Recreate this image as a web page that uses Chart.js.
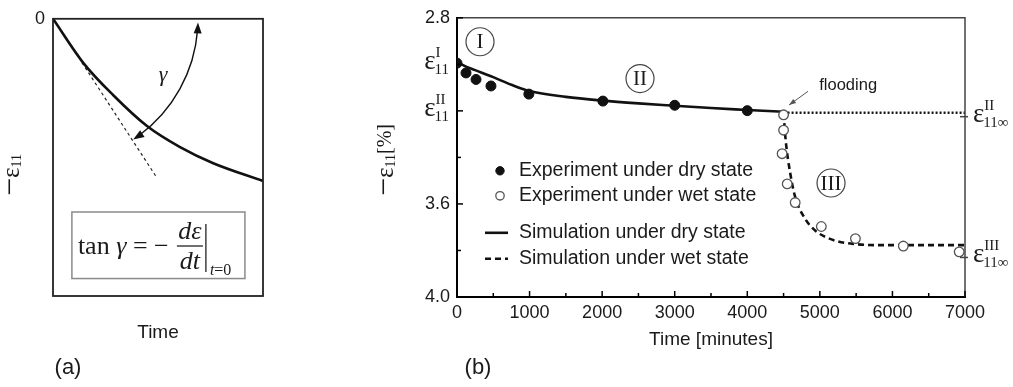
<!DOCTYPE html>
<html>
<head>
<meta charset="utf-8">
<script src="https://cdn.jsdelivr.net/npm/chart.js@4.4.0/dist/chart.umd.min.js"></script>
<style>
  body { margin: 0; background: #fff; }
  #quadro { position: relative; width: 1013px; height: 387px; overflow: hidden; }
  canvas { position: absolute; top: 0; }
  #graficoA { left: 0; }
  #graficoB { left: 375px; }
</style>
</head>
<body>
<div id="quadro">
  <canvas id="graficoA" width="375" height="387"></canvas>
  <canvas id="graficoB" width="638" height="387"></canvas>
</div>
<script>
const SANS = '"Liberation Sans", Arial, sans-serif';
const SERIF = '"Liberation Serif", "Times New Roman", serif';
const TEXTO = '#1a1a1a';

// (a) curva esquematica, eixos normalizados 0..1
const esquemaTempo = [0, 0.143, 0.286, 0.446, 0.605, 0.763, 1.0];
const esquemaDeform = [0, 0.158, 0.275, 0.386, 0.463, 0.521, 0.585];
const tangenteTempo = [0.138, 0.495];
const tangenteDeform = [0.158, 0.574];

// (b) dados
const tempoSeco = [0, 124, 262, 468, 990, 2010, 3000, 4000];
const deformSeca = [2.995, 3.037, 3.065, 3.093, 3.128, 3.158, 3.176, 3.199];
const tempoUmido = [4500, 4500, 4480, 4550, 4660, 5020, 5490, 6150, 6920];
const deformUmida = [3.217, 3.283, 3.384, 3.514, 3.594, 3.697, 3.749, 3.781, 3.806];
const simTempoSeco = [0, 125, 250, 500, 750, 1000, 1500, 2000, 2500, 3000, 3500, 4000, 4500];
const simDeformSeca = [2.99, 3.01, 3.025, 3.055, 3.088, 3.115, 3.14, 3.156, 3.168, 3.178, 3.188, 3.196, 3.204];
const simTempoUmido = [4500, 4530, 4590, 4660, 4800, 4950, 5100, 5240, 5460, 5830, 7000];
const simDeformUmida = [3.21, 3.33, 3.465, 3.57, 3.665, 3.718, 3.745, 3.76, 3.772, 3.777, 3.777];
const extTempo = [4500, 7000];
const extDeform = [3.208, 3.208];

const legendas = ['Experiment under dry state', 'Experiment under wet state',
                  'Simulation under dry state', 'Simulation under wet state'];
const yRotulados = [2.8, 3.6, 4.0];
const epsEsqValor = [3.0, 3.2];
const epsEsqSup = ['I', 'II'];
const epsDirValor = [3.225, 3.83];
const epsDirSup = ['II', 'III'];
const regioes = ['I', 'II', 'III'];
const regiaoTempo = [317, 2522, 5154];
const regiaoDeform = [2.903, 3.061, 3.51];

const pts = (xs, ys) => xs.map((v, i) => ({ x: v, y: ys[i] }));

function linha(ctx, x1, y1, x2, y2) {
    ctx.beginPath(); ctx.moveTo(x1, y1); ctx.lineTo(x2, y2); ctx.stroke();
}

function seta(ctx, x, y, dx, dy, comp, larg) {
    const n = Math.hypot(dx, dy); dx /= n; dy /= n;
    ctx.beginPath();
    ctx.moveTo(x, y);
    ctx.lineTo(x - dx * comp - dy * larg, y - dy * comp + dx * larg);
    ctx.lineTo(x - dx * comp + dy * larg, y - dy * comp - dx * larg);
    ctx.closePath(); ctx.fill();
}

// texto em sequencia: [texto, fonte, deslocamento vertical]
function trechos(ctx, partes, x, y) {
    let cx = x;
    partes.forEach(([t, f, dy]) => {
        ctx.font = f; ctx.fillText(t, cx, y + (dy || 0));
        cx += ctx.measureText(t).width;
    });
    return cx;
}
function larguraTrechos(ctx, partes) {
    return partes.reduce((s, [t, f]) => { ctx.font = f; return s + ctx.measureText(t).width; }, 0);
}

function rotuloEps(ctx, x, y, sup, sub, alinhar) {
    ctx.textAlign = 'left'; ctx.textBaseline = 'alphabetic';
    ctx.font = `27px ${SERIF}`; const we = ctx.measureText('ε').width;
    ctx.font = `15px ${SERIF}`;
    const ws = Math.max(ctx.measureText(sup).width, ctx.measureText(sub).width);
    const x0 = alinhar === 'right' ? x - we - ws : x;
    ctx.font = `27px ${SERIF}`; ctx.fillText('ε', x0, y + 5);
    ctx.font = `15px ${SERIF}`;
    ctx.fillText(sup, x0 + we, y - 7);
    ctx.fillText(sub, x0 + we - 1, y + 10);
}

function tituloVertical(ctx, partes, cx, cy) {
    ctx.save();
    ctx.translate(cx, cy); ctx.rotate(-Math.PI / 2);
    ctx.textAlign = 'left'; ctx.textBaseline = 'middle'; ctx.fillStyle = TEXTO;
    const w = larguraTrechos(ctx, partes);
    trechos(ctx, partes, -w / 2, 0);
    ctx.restore();
}

// ---------- (a) ----------
const extrasA = {
    id: 'extrasA',
    afterDraw(chart) {
        const { ctx, chartArea: a, scales: { x, y } } = chart;
        ctx.save();
        ctx.strokeStyle = '#222'; ctx.lineWidth = 1.8;
        ctx.strokeRect(a.left, a.top, a.right - a.left, a.bottom - a.top);

        // arco gamma centrado na origem
        const ox = x.getPixelForValue(0), oy = y.getPixelForValue(0);
        const r = 145, a0 = 0.025, a1 = 0.985;
        ctx.strokeStyle = '#111'; ctx.fillStyle = '#111'; ctx.lineWidth = 1.4;
        ctx.beginPath(); ctx.arc(ox, oy, r, a0 + 0.05, a1 - 0.05); ctx.stroke();
        seta(ctx, ox + r * Math.cos(a0), oy + r * Math.sin(a0), Math.sin(a0), -Math.cos(a0), 11, 4);
        seta(ctx, ox + r * Math.cos(a1), oy + r * Math.sin(a1), -Math.sin(a1), Math.cos(a1), 11, 4);

        ctx.fillStyle = TEXTO; ctx.textAlign = 'center'; ctx.textBaseline = 'middle';
        ctx.font = `italic 22px ${SERIF}`;
        ctx.fillText('γ', x.getPixelForValue(0.524), y.getPixelForValue(0.204));

        // caixa da formula
        const bl = x.getPixelForValue(0.09), br = x.getPixelForValue(0.914);
        const bt = y.getPixelForValue(0.697), bb = y.getPixelForValue(0.937);
        ctx.strokeStyle = '#8a8a8a'; ctx.lineWidth = 1.5;
        ctx.strokeRect(bl, bt, br - bl, bb - bt);
        ctx.textAlign = 'left'; ctx.textBaseline = 'alphabetic';
        const F = `26px ${SERIF}`, FI = `italic 26px ${SERIF}`;
        trechos(ctx, [['tan ', F], ['γ', FI], [' = ', F], ['−', F]], bl + 6, bt + 42);
        const fc = bl + 118;
        ctx.font = FI; ctx.textAlign = 'center';
        ctx.fillText('dε', fc, bt + 27);
        ctx.fillText('dt', fc, bt + 57);
        ctx.strokeStyle = '#111'; ctx.lineWidth = 1.2;
        linha(ctx, fc - 13, bt + 34, fc + 13, bt + 34);
        linha(ctx, fc + 16, bt + 12, fc + 16, bt + 60);
        ctx.textAlign = 'left';
        trechos(ctx, [['t', `italic 16px ${SERIF}`], ['=0', `16px ${SERIF}`]], fc + 20, bt + 63);

        tituloVertical(ctx, [['−', `32px ${SERIF}`], ['ε', `25px ${SERIF}`], ['11', `14px ${SERIF}`, 5]], 12, 175);

        ctx.fillStyle = TEXTO; ctx.font = `22px ${SANS}`; ctx.textAlign = 'center'; ctx.textBaseline = 'middle';
        ctx.fillText('(a)', 68, 368);
        ctx.restore();
    }
};

new Chart(document.getElementById('graficoA'), {
    type: 'scatter',
    data: {
        datasets: [
            { data: pts(esquemaTempo, esquemaDeform), showLine: true, borderColor: '#111', borderWidth: 2.6,
              pointRadius: 0, cubicInterpolationMode: 'monotone' },
            { data: pts(tangenteTempo, tangenteDeform), showLine: true, borderColor: '#222', borderWidth: 1.2,
              borderDash: [3, 3], pointRadius: 0 }
        ]
    },
    options: {
        responsive: false, animation: false, devicePixelRatio: 1,
        layout: { padding: { left: 0, top: 12, right: 112, bottom: 0 } },
        plugins: { legend: { display: false }, tooltip: { enabled: false } },
        scales: {
            x: {
                min: 0, max: 1,
                ticks: { display: false }, grid: { display: false, drawTicks: false },
                border: { display: false },
                title: { display: true, text: 'Time', color: TEXTO, font: { family: SANS, size: 19 },
                         padding: { top: 0, bottom: 42.6 } },
                afterFit: s => { s.height = 91; }
            },
            y: {
                min: 0, max: 1, reverse: true,
                afterBuildTicks: s => { s.ticks = [{ value: 0 }]; },
                ticks: { padding: 8, color: TEXTO, font: { family: SANS, size: 18 }, callback: () => '0' },
                grid: { display: false, drawTicks: false }, border: { display: false },
                afterFit: s => { s.width = 53; }
            }
        }
    },
    plugins: [extrasA]
});

// ---------- (b) ----------
const extrasB = {
    id: 'extrasB',
    afterDraw(chart) {
        const { ctx, chartArea: a, scales: { x, y } } = chart;
        const ds = chart.data.datasets;
        ctx.save();
        ctx.strokeStyle = '#444'; ctx.lineWidth = 1.5;
        ctx.beginPath(); ctx.moveTo(a.left, a.top); ctx.lineTo(a.right, a.top); ctx.lineTo(a.right, a.bottom); ctx.stroke();

        // marcas para dentro
        ctx.strokeStyle = '#000'; ctx.lineWidth = 1.5;
        x.ticks.forEach(t => {
            const px = x.getPixelForValue(t.value);
            linha(ctx, px, a.bottom, px, a.bottom - (t.value % 1000 === 0 ? 6 : 4));
        });
        y.ticks.forEach((t, i) => {
            const py = y.getPixelForValue(t.value);
            linha(ctx, a.left, py, a.left + (i % 2 === 0 ? 6 : 4), py);
        });
        ctx.strokeStyle = '#444';
        epsDirValor.forEach(v => { const py = y.getPixelForValue(v); linha(ctx, a.right - 5, py, a.right + 3, py); });

        ctx.fillStyle = TEXTO;
        epsEsqValor.forEach((v, i) => rotuloEps(ctx, a.left - 7, y.getPixelForValue(v), epsEsqSup[i], '11', 'right'));
        epsDirValor.forEach((v, i) => rotuloEps(ctx, a.right + 8, y.getPixelForValue(v), epsDirSup[i], '11∞', 'left'));

        // regioes circuladas
        ctx.strokeStyle = '#444'; ctx.lineWidth = 1.2;
        regioes.forEach((r, i) => {
            const cx = x.getPixelForValue(regiaoTempo[i]), cy = y.getPixelForValue(regiaoDeform[i]);
            ctx.beginPath(); ctx.arc(cx, cy, 14, 0, Math.PI * 2); ctx.stroke();
            ctx.font = `21px ${SERIF}`; ctx.textAlign = 'center'; ctx.textBaseline = 'middle';
            ctx.fillText(r, cx, cy + 1);
        });

        // flooding
        ctx.font = `16.5px ${SANS}`; ctx.textAlign = 'center'; ctx.textBaseline = 'middle';
        ctx.fillText('flooding', x.getPixelForValue(5390), y.getPixelForValue(3.09));
        ctx.strokeStyle = '#555'; ctx.fillStyle = '#555'; ctx.lineWidth = 1;
        const fx1 = x.getPixelForValue(4837), fy1 = y.getPixelForValue(3.116);
        const fx2 = x.getPixelForValue(4575), fy2 = y.getPixelForValue(3.175);
        linha(ctx, fx1, fy1, fx2, fy2);
        seta(ctx, fx2, fy2, fx2 - fx1, fy2 - fy1, 7, 2.5);

        // legenda
        const linhasY = [153, 178, 215, 241];
        ctx.textAlign = 'left'; ctx.textBaseline = 'middle';
        legendas.forEach((txt, i) => {
            const ly = a.top + linhasY[i];
            const d = ds[i];
            if (i < 2) {
                ctx.beginPath(); ctx.arc(a.left + 43, ly, 4.2, 0, Math.PI * 2);
                ctx.fillStyle = d.pointBackgroundColor; ctx.fill();
                ctx.strokeStyle = d.pointBorderColor; ctx.lineWidth = d.pointBorderWidth; ctx.stroke();
            } else {
                ctx.strokeStyle = d.borderColor; ctx.lineWidth = d.borderWidth;
                ctx.setLineDash(d.borderDash || []);
                linha(ctx, a.left + 28, ly, a.left + 51, ly);
                ctx.setLineDash([]);
            }
            ctx.fillStyle = TEXTO; ctx.font = `19.5px ${SANS}`;
            ctx.fillText(txt, a.left + 62, ly);
        });

        tituloVertical(ctx, [['−', `32px ${SERIF}`], ['ε', `25px ${SERIF}`], ['11', `14px ${SERIF}`, 5], ['[%]', `20px ${SERIF}`]],
                       a.left - 71, 160);

        ctx.fillStyle = TEXTO; ctx.font = `22px ${SANS}`; ctx.textAlign = 'center'; ctx.textBaseline = 'middle';
        ctx.fillText('(b)', a.left + 21, 368);
        ctx.restore();
    }
};

new Chart(document.getElementById('graficoB'), {
    type: 'scatter',
    data: {
        datasets: [
            { label: legendas[0], data: pts(tempoSeco, deformSeca), pointRadius: 5,
              pointBackgroundColor: '#111', pointBorderColor: '#111', pointBorderWidth: 1 },
            { label: legendas[1], data: pts(tempoUmido, deformUmida), pointRadius: 4.8,
              pointBackgroundColor: '#fff', pointBorderColor: '#555', pointBorderWidth: 1.3 },
            { label: legendas[2], data: pts(simTempoSeco, simDeformSeca), showLine: true, borderColor: '#111',
              borderWidth: 2.6, pointRadius: 0, cubicInterpolationMode: 'monotone' },
            { label: legendas[3], data: pts(simTempoUmido, simDeformUmida), showLine: true, borderColor: '#111',
              borderWidth: 2.6, borderDash: [6, 4], pointRadius: 0, cubicInterpolationMode: 'monotone' },
            { label: 'dry asymptote', data: pts(extTempo, extDeform), showLine: true, borderColor: '#111',
              borderWidth: 2.4, borderDash: [2, 2], pointRadius: 0 }
        ]
    },
    options: {
        responsive: false, animation: false, devicePixelRatio: 1,
        layout: { padding: { left: 0, top: 12, right: 48, bottom: 0 } },
        plugins: { legend: { display: false }, tooltip: { enabled: false } },
        scales: {
            x: {
                min: 0, max: 7000,
                ticks: { stepSize: 500, autoSkip: false, maxRotation: 0, padding: 5, color: TEXTO,
                         font: { family: SANS, size: 18 }, callback: v => (v % 1000 === 0 ? String(v) : '') },
                grid: { display: false, drawTicks: false },
                border: { display: true, color: '#000', width: 2 },
                title: { display: true, text: 'Time [minutes]', color: TEXTO, font: { family: SANS, size: 19 },
                         padding: { top: 0, bottom: 35.6 } },
                afterFit: s => { s.height = 90; }
            },
            y: {
                min: 2.8, max: 4.0, reverse: true,
                ticks: { stepSize: 0.2, autoSkip: false, padding: 7, color: TEXTO, font: { family: SANS, size: 18 },
                         callback: v => (yRotulados.includes(+v.toFixed(1)) ? v.toFixed(1) : '') },
                grid: { display: false, drawTicks: false },
                border: { display: true, color: '#000', width: 2 },
                afterFit: s => { s.width = 82; }
            }
        }
    },
    plugins: [extrasB]
});
</script>
</body>
</html>
